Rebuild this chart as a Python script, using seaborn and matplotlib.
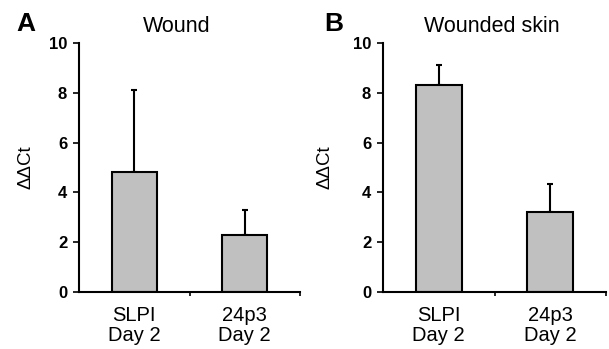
import matplotlib
matplotlib.use('Agg')
import matplotlib.pyplot as plt
import seaborn as sns
from matplotlib.ticker import FixedLocator

# Data
categories = ['SLPI\nDay 2', '24p3\nDay 2']
wound_mean = [4.8, 2.3]
wound_err = [3.3, 1.0]
skin_mean = [8.3, 3.2]
skin_err = [0.8, 1.15]
titles = ['Wound', 'Wounded skin']
letters = ['A', 'B']

sns.set_theme(style='ticks')
plt.rcParams['font.family'] = ['Liberation Sans', 'DejaVu Sans']
plt.rcParams['text.color'] = 'black'
plt.rcParams['axes.labelcolor'] = 'black'
plt.rcParams['xtick.color'] = 'black'
plt.rcParams['ytick.color'] = 'black'

fig = plt.figure(figsize=(6.09, 3.49), dpi=100)
ax_a = fig.add_axes([79 / 609, 1 - 292 / 349, 221 / 609, 249 / 349])
ax_b = fig.add_axes([383 / 609, 1 - 292 / 349, 223 / 609, 249 / 349])

panels = [(ax_a, wound_mean, wound_err, -0.2), (ax_b, skin_mean, skin_err, -0.22)]
for ax, means, errs, lab_x in panels:
    sns.barplot(x=categories, y=means, ax=ax, color='#c0c0c0', saturation=1,
                width=0.41, edgecolor='black', linewidth=1.5, errorbar=None)
    ax.errorbar(range(len(means)), means, yerr=[[0] * len(errs), errs], fmt='none',
                ecolor='black', elinewidth=1.5, capsize=2.2, capthick=1.5, zorder=0)
    ax.set_xlim(-0.5, 1.5)
    ax.set_ylim(0, 10)
    ax.set_yticks([0, 2, 4, 6, 8, 10])
    ax.tick_params(axis='y', length=4.5, width=1.2, pad=4, labelsize=12, colors='black')
    for t in ax.get_yticklabels():
        t.set_fontweight('bold')
    ax.tick_params(axis='x', which='major', length=0, pad=10, labelsize=14.5, colors='black')
    for t in ax.get_xticklabels():
        t.set_linespacing(1.1)
    ax.xaxis.set_minor_locator(FixedLocator([0.5, 1.5]))
    ax.tick_params(axis='x', which='minor', length=3, width=1.2, color='black')
    for s in ['top', 'right']:
        ax.spines[s].set_visible(False)
    for s in ['left', 'bottom']:
        ax.spines[s].set_linewidth(1.5)
        ax.spines[s].set_color('black')
    ax.set_ylabel('ΔΔCt', fontsize=13.5, color='black')
    ax.yaxis.set_label_coords(lab_x, 0.5)
    ax.set_facecolor('white')

fig.text(177 / 609, 1 - 32 / 349, titles[0], ha='center', va='baseline', fontsize=15.5)
fig.text(492 / 609, 1 - 32 / 349, titles[1], ha='center', va='baseline', fontsize=15.5)
fig.text(16 / 609, 1 - 31 / 349, letters[0], ha='left', va='baseline', fontsize=19, fontweight='heavy')
fig.text(324 / 609, 1 - 31 / 349, letters[1], ha='left', va='baseline', fontsize=19, fontweight='heavy')

fig.savefig('out.png', dpi=100, facecolor='white')
